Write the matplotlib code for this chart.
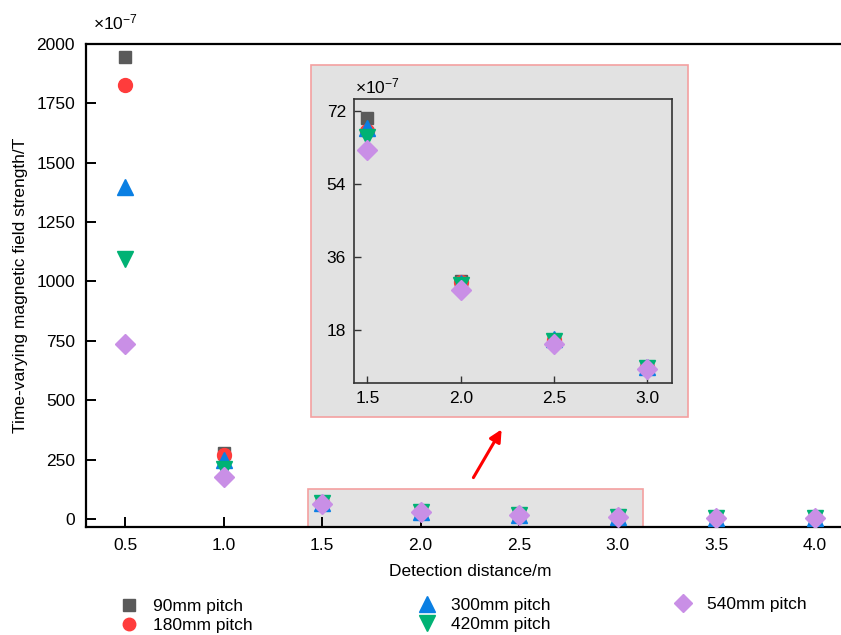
import matplotlib
matplotlib.use("Agg")
import matplotlib.pyplot as plt
from matplotlib.patches import Rectangle, FancyArrowPatch
from matplotlib.lines import Line2D

plt.rcParams['font.family'] = ['Liberation Sans', 'DejaVu Sans']
plt.rcParams['mathtext.fontset'] = 'custom'
plt.rcParams['mathtext.rm'] = 'Liberation Sans'
plt.rcParams['mathtext.it'] = 'Liberation Sans'

# detection distance (m) and field strength (x1e-7 T)
dist = [0.5, 1.0, 1.5, 2.0, 2.5, 3.0, 3.5, 4.0]
labels = ['90mm pitch', '180mm pitch', '300mm pitch', '420mm pitch', '540mm pitch']
b_90 = [1946, 279, 70.3, 30.1, 15.6, 8.8, 4.8, 3.2]
b_180 = [1827, 269, 67.2, 30.0, 15.5, 8.8, 4.7, 3.1]
b_300 = [1399, 248, 67.8, 29.6, 15.7, 8.9, 4.8, 3.2]
b_420 = [1093, 210, 65.6, 29.2, 15.4, 8.7, 4.6, 3.0]
b_540 = [737, 178, 62.6, 27.9, 14.5, 8.5, 4.4, 2.9]

series = [b_90, b_180, b_300, b_420, b_540]
markers = ['s', 'o', '^', 'v', 'D']
sizes = [9, 10, 12, 12, 10]
colors = ['#5a5a5a', '#ff3c3c', '#0a7fe3', '#00b274', '#c98fe6']
fs = 12.5

fig = plt.figure(figsize=(8.41, 6.35), dpi=100)
ax = fig.add_axes([0.1023, 0.1701, 0.9132, 0.7606])
ax.set_zorder(0)

# zoom region highlight
ax.add_patch(Rectangle((1.43, -34), 1.70, 160, facecolor='#e3e3e3',
                       edgecolor='#f4a0a0', lw=1.2, zorder=1))

for y, m, s, c, lab in zip(series, markers, sizes, colors, labels):
    ax.plot(dist, y, ls='none', marker=m, ms=s, color=c, label=lab, zorder=3)

ax.set_xlim(0.302, 4.2)
ax.set_ylim(-34, 2000)
ax.set_xticks([0.5, 1.0, 1.5, 2.0, 2.5, 3.0, 3.5, 4.0])
ax.set_yticks([0, 250, 500, 750, 1000, 1250, 1500, 1750, 2000])
ax.tick_params(direction='in', length=7, width=1.4, labelsize=fs, pad=8)
for sp in ax.spines.values():
    sp.set_linewidth(1.6)
ax.set_xlabel('Detection distance/m', fontsize=fs, labelpad=8)
ax.set_ylabel('Time-varying magnetic field strength/T', fontsize=fs, labelpad=6)
fig.text(93 / 841, 1 - 22 / 635, r'×10$^{-7}$', fontsize=fs, va='center')

# inset background box
fig.patches.append(Rectangle((0.3698, 0.3438), 0.4479, 0.5539, transform=fig.transFigure,
                             facecolor='#e2e2e2', edgecolor='#f4a0a0', lw=1.2, zorder=1))

ins = fig.add_axes([0.4213, 0.3973, 0.3774, 0.4463])
ins.set_zorder(2)
ins.set_facecolor('#e2e2e2')
for y, m, s, c in zip(series, markers, sizes, colors):
    ins.plot(dist, y, ls='none', marker=m, ms=s, color=c, zorder=3)
ins.set_xlim(1.43, 3.13)
ins.set_ylim(5, 75)
ins.set_xticks([1.5, 2.0, 2.5, 3.0])
ins.set_yticks([18, 36, 54, 72])
ins.tick_params(direction='in', length=5, width=1, labelsize=fs, color='#333333', pad=6)
for sp in ins.spines.values():
    sp.set_linewidth(1.2)
    sp.set_color('#333333')
fig.text(355 / 841, 1 - 86 / 635, r'×10$^{-7}$', fontsize=fs, va='center', zorder=3)

# arrow from highlighted region to inset
fig.patches.append(FancyArrowPatch((472 / 841, 1 - 480 / 635), (503 / 841, 1 - 427 / 635),
                                   transform=fig.transFigure, arrowstyle='-|>',
                                   mutation_scale=18, color='red', lw=2.2, zorder=3))

# legend in three groups
handles = [Line2D([], [], ls='none', marker=m, ms=s - 1, color=c)
           for m, s, c in zip(markers, sizes, colors)]
kw = dict(frameon=False, fontsize=fs, handletextpad=0.8, labelspacing=0.25,
          borderpad=0, handlelength=1.2, loc='upper left')
fig.legend(handles[:2], labels[:2], bbox_to_anchor=(110 / 841, 1 - 590 / 635), **kw)
fig.legend(handles[2:4], labels[2:4], bbox_to_anchor=(408 / 841, 1 - 589 / 635), **kw)
fig.legend(handles[4:], labels[4:], bbox_to_anchor=(664 / 841, 1 - 588 / 635), **kw)

fig.savefig('out.png', dpi=100)
